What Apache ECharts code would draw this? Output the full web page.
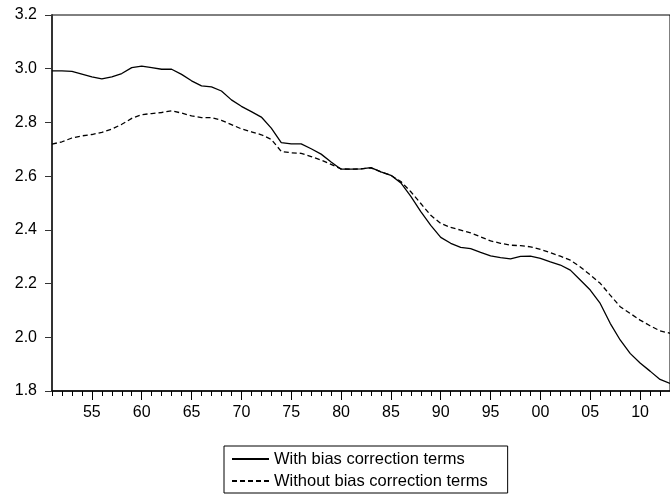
<!DOCTYPE html>
<html>
<head>
<meta charset="utf-8">
<script src="https://cdn.jsdelivr.net/npm/echarts@6/dist/echarts.min.js"></script>
<style>
  html, body { margin: 0; padding: 0; background: #ffffff; }
  #chart { width: 670px; height: 495px; }
</style>
</head>
<body>
<div id="chart"></div>
<script>
// Annual observations, 1951-2013
const years = [
  1951, 1952, 1953, 1954, 1955, 1956, 1957, 1958, 1959, 1960,
  1961, 1962, 1963, 1964, 1965, 1966, 1967, 1968, 1969, 1970,
  1971, 1972, 1973, 1974, 1975, 1976, 1977, 1978, 1979, 1980,
  1981, 1982, 1983, 1984, 1985, 1986, 1987, 1988, 1989, 1990,
  1991, 1992, 1993, 1994, 1995, 1996, 1997, 1998, 1999, 2000,
  2001, 2002, 2003, 2004, 2005, 2006, 2007, 2008, 2009, 2010,
  2011, 2012, 2013
];

const withBias = [
  2.992, 2.992, 2.990, 2.980, 2.970, 2.962, 2.970, 2.982, 3.004, 3.010,
  3.004, 2.998, 2.998, 2.979, 2.955, 2.936, 2.932, 2.917, 2.884, 2.860,
  2.840, 2.820, 2.779, 2.725, 2.720, 2.720, 2.702, 2.682, 2.653, 2.626,
  2.626, 2.627, 2.632, 2.616, 2.603, 2.575, 2.525, 2.468, 2.417, 2.372,
  2.350, 2.335, 2.330, 2.316, 2.303, 2.297, 2.292, 2.301, 2.302, 2.294,
  2.281, 2.269, 2.250, 2.213, 2.176, 2.126, 2.052, 1.990, 1.940, 1.904,
  1.874, 1.843, 1.828
];

const withoutBias = [
  2.719, 2.728, 2.742, 2.750, 2.755, 2.763, 2.775, 2.793, 2.815, 2.829,
  2.833, 2.837, 2.843, 2.835, 2.824, 2.818, 2.818, 2.808, 2.792, 2.776,
  2.765, 2.754, 2.737, 2.692, 2.687, 2.685, 2.673, 2.660, 2.644, 2.627,
  2.626, 2.627, 2.631, 2.616, 2.603, 2.580, 2.542, 2.498, 2.454, 2.424,
  2.409, 2.399, 2.389, 2.374, 2.359, 2.350, 2.343, 2.341, 2.337, 2.327,
  2.315, 2.302, 2.287, 2.262, 2.232, 2.201, 2.157, 2.114, 2.089, 2.064,
  2.043, 2.024, 2.015
];

const seriesNames = ['With bias correction terms', 'Without bias correction terms'];

const yMin = 1.8, yMax = 3.2, yStep = 0.2;

const FONT = "'Liberation Sans', Arial, sans-serif";
const isMajorYear = (idx, val) => Number(val) % 5 === 0;

const chart = echarts.init(document.getElementById('chart'), null, { renderer: 'canvas' });

chart.setOption({
  animation: false,
  backgroundColor: '#ffffff',
  grid: {
    left: 52, top: 15, width: 620, height: 376,
    show: true, borderColor: '#000000', borderWidth: 1, backgroundColor: 'transparent'
  },
  legend: {
    orient: 'vertical',
    left: 224, top: 446,
    padding: [4, 20, 3, 7],
    itemGap: 4,
    itemWidth: 37,
    itemHeight: 12,
    borderColor: '#000000',
    borderWidth: 1,
    data: seriesNames,
    // only the line sample, no marker dot
    itemStyle: { color: 'rgba(0,0,0,0)', borderColor: 'rgba(0,0,0,0)', borderWidth: 0, opacity: 0 },
    textStyle: { fontFamily: FONT, fontSize: 16.5, color: '#000000', lineHeight: 18 }
  },
  xAxis: [
    {
      // yearly minor ticks
      type: 'category',
      data: years,
      boundaryGap: false,
      position: 'bottom',
      axisLine: { show: true, lineStyle: { color: '#000000', width: 1.5 } },
      axisTick: { show: true, interval: 0, length: 5, lineStyle: { color: '#000000', width: 1 } },
      axisLabel: { show: false },
      splitLine: { show: false }
    },
    {
      // five-year major ticks with two-digit labels
      type: 'category',
      data: years,
      boundaryGap: false,
      position: 'bottom',
      axisLine: { show: false },
      axisTick: { show: true, interval: isMajorYear, length: 9, lineStyle: { color: '#000000', width: 1 } },
      axisLabel: {
        show: true, interval: isMajorYear, margin: 14,
        fontFamily: FONT, fontSize: 16, color: '#000000',
        formatter: v => String(v).slice(2)
      },
      splitLine: { show: false }
    }
  ],
  yAxis: {
    type: 'value',
    min: yMin, max: yMax, interval: yStep,
    axisLine: { show: true, lineStyle: { color: '#333333', width: 2 } },
    axisTick: { show: true, length: 7, lineStyle: { color: '#333333', width: 1 } },
    axisLabel: {
      margin: 15, fontFamily: FONT, fontSize: 16, color: '#000000',
      formatter: v => Number(v).toFixed(1)
    },
    splitLine: { show: false }
  },
  series: [
    {
      name: seriesNames[0],
      type: 'line',
      xAxisIndex: 0,
      data: withBias,
      symbol: 'none',
      lineStyle: { color: '#000000', width: 1.3, type: 'solid' },
      itemStyle: { color: '#000000' }
    },
    {
      name: seriesNames[1],
      type: 'line',
      xAxisIndex: 0,
      data: withoutBias,
      symbol: 'none',
      lineStyle: { color: '#000000', width: 1.3, type: [5, 3] },
      itemStyle: { color: '#000000' }
    }
  ]
});
</script>
</body>
</html>
